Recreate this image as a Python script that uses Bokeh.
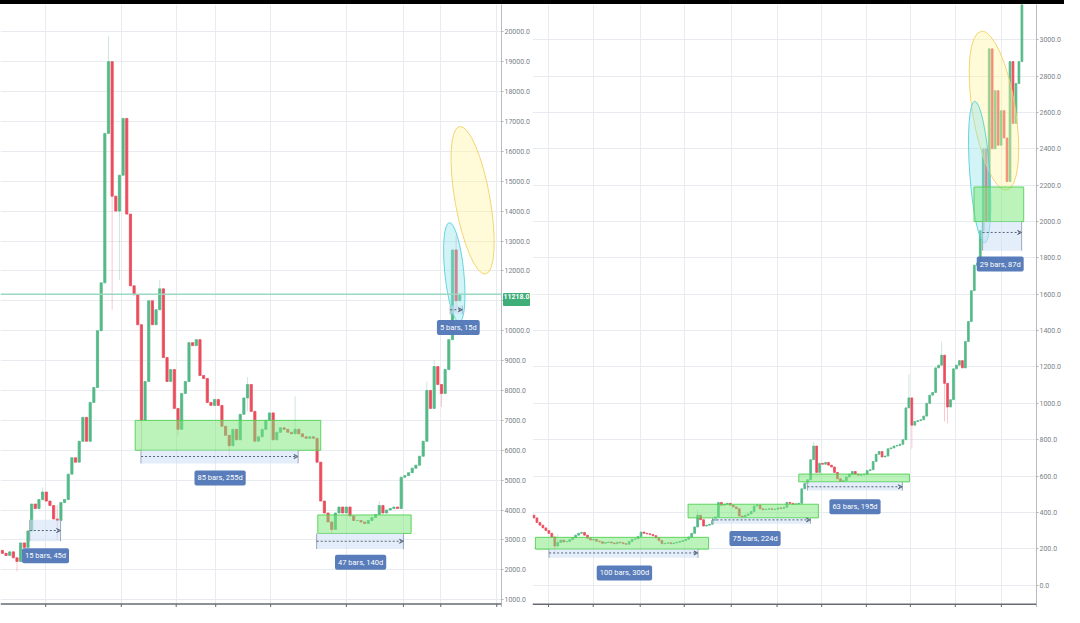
from bokeh.plotting import figure
from bokeh.models import (Range1d, FixedTicker, PrintfTickFormatter, BoxAnnotation,
                          Label, Span, Div, Arrow, VeeHead)
from bokeh.layouts import column, row
from bokeh.embed import file_html
from bokeh.resources import INLINE

# ---------------- data: left panel (6-day bars, 2017-2019) ----------------
L_first_open = 2650
L_close = [2550, 2480, 2600, 2400, 2280, 2900, 2750, 3300, 4200, 4050,
           4350, 4600, 4300, 4150, 3700, 3650, 4250, 4350, 5200, 5750,
           5600, 6300, 7100, 6300, 7600, 8100, 10000, 11600, 16600, 19000,
           14500, 14000, 15200, 17100, 13900, 11500, 11200, 10200, 7000, 8300,
           11000, 10200, 10700, 11400, 9100, 8300, 8700, 7400, 6700, 7900,
           8300, 9600, 9500, 9700, 8500, 8400, 7600, 7500, 7700, 7500,
           6800, 6500, 6150, 6700, 6350, 7200, 7750, 8200, 7300, 6300,
           6450, 6700, 7000, 7250, 6350, 6600, 6750, 6700, 6600, 6550,
           6700, 6550, 6450, 6400, 6450, 6400, 5600, 4300, 3900, 3600,
           3350, 3900, 4100, 3900, 4100, 3800, 3650, 3650, 3600, 3550,
           3650, 3750, 3850, 4150, 3900, 4000, 4050, 4100, 4050, 5100,
           5150, 5250, 5400, 5500, 5800, 6300, 8000, 7400, 8800, 8200,
           7900, 8700, 9700, 12700, 11000, 11218]
L_wick_idx = [4, 11, 15, 29, 30, 32, 38, 43, 48, 62, 67, 80, 90, 103, 116, 118, 120, 124]
L_wick_hi = [2400, 4750, 4150, 19850, 19000, 15200, 8800, 11700, 7400, 6500, 8450, 7800, 3600, 4300, 8300, 9000, 8200, 13200]
L_wick_lo = [1950, 4300, 3000, 16600, 10700, 11700, 6000, 11000, 6500, 5800, 7300, 6550, 3200, 3850, 6300, 7400, 7450, 10600]
L_yticks = [1000, 2000, 3000, 4000, 5000, 6000, 7000, 8000, 9000, 10000,
            11000, 12000, 13000, 14000, 15000, 16000, 17000, 18000, 19000, 20000]
L_last_price = 11218

# ---------------- data: right panel (6-day bars, 2014-2017) ----------------
R_first_open = 385
R_close = [370, 345, 330, 315, 300, 285, 265, 215, 235, 248,
           238, 240, 250, 260, 275, 285, 290, 275, 258, 248,
           252, 242, 238, 230, 235, 237, 232, 228, 236, 233,
           228, 225, 240, 252, 255, 268, 292, 285, 282, 278,
           272, 260, 245, 228, 230, 233, 228, 232, 236, 240,
           245, 252, 265, 285, 320, 385, 360, 325, 330, 335,
           355, 375, 455, 440, 445, 450, 440, 430, 420, 380,
           375, 385, 392, 405, 435, 440, 420, 415, 418, 420,
           416, 418, 425, 422, 428, 455, 450, 445, 447, 450,
           530, 560, 580, 690, 765, 620, 670, 665, 675, 660,
           650, 620, 585, 570, 575, 595, 610, 625, 610, 605,
           607, 610, 630, 635, 680, 720, 735, 705, 710, 750,
           755, 765, 768, 775, 800, 975, 1030, 880, 900, 905,
           910, 930, 1000, 1045, 1060, 1195, 1210, 1265, 1110, 980,
           1020, 1190, 1210, 1235, 1195, 1340, 1450, 1620, 1760, 1770,
           1950, 2400, 2000, 2950, 2400, 2720, 2420, 2610, 2460, 2220,
           2880, 2540, 2760, 2880, 3400]
R_wick_idx = [7, 8, 55, 94, 126, 127, 137, 138, 139]
R_wick_hi = [265, 280, 415, 790, 1160, 1030, 1340, 1265, 1110]
R_wick_lo = [170, 215, 320, 690, 975, 750, 1210, 900, 890]
R_yticks = [0, 200, 400, 600, 800, 1000, 1200, 1400, 1600, 1800, 2000,
            2200, 2400, 2600, 2800, 3000]

UP = "#53b987"
DN = "#eb4d5c"
FONT = "Roboto"


def make_fig(w, xr, yr, y_axis_at, yticks, xgrid_ticks):
    p = figure(width=w, height=603, output_backend="svg", toolbar_location=None,
               tools="", x_range=Range1d(*xr), y_range=Range1d(*yr),
               y_axis_location="right", x_axis_location=None,
               min_border_left=0, min_border_right=0, min_border_top=0,
               min_border_bottom=0)
    p.outline_line_color = None
    p.background_fill_color = "white"
    p.border_fill_color = "white"
    ya = p.yaxis[0]
    ya.ticker = FixedTicker(ticks=yticks, minor_ticks=[])
    ya.formatter = PrintfTickFormatter(format="%.1f")
    ya.major_label_text_font = FONT
    ya.major_label_text_font_size = "7px"
    ya.major_label_text_color = "#7b7f87"
    ya.major_label_standoff = 1
    ya.major_tick_out = 2
    ya.major_tick_in = 0
    ya.minor_tick_out = 0
    ya.minor_tick_in = 0
    ya.axis_label_standoff = 0
    ya.minor_tick_line_color = None
    ya.major_tick_line_color = "#b0b4ba"
    ya.axis_line_color = "#b8bcc2"
    p.xgrid.ticker = FixedTicker(ticks=xgrid_ticks, minor_ticks=[])
    p.ygrid.ticker = FixedTicker(ticks=yticks, minor_ticks=[])
    p.grid.grid_line_color = "#e8ebef"
    p.grid.grid_line_width = 1
    # bottom time axis line with downward ticks (no labels in the reference)
    p.add_layout(Span(location=y_axis_at, dimension="width",
                      line_color="#666a70", line_width=1.5))
    p.segment(x0=xgrid_ticks, x1=xgrid_ticks, y0=[yr[0]] * len(xgrid_ticks),
              y1=[y_axis_at] * len(xgrid_ticks), line_color="#666a70", line_width=1)
    return p


def candles(p, first_open, closes, widx, whi, wlo, bw):
    opens = [first_open] + closes[:-1]
    xs = list(range(len(closes)))
    top = [max(o, c) for o, c in zip(opens, closes)]
    bot = [min(o, c) for o, c in zip(opens, closes)]
    col = [UP if c >= o else DN for o, c in zip(opens, closes)]
    p.segment(x0=widx, x1=widx, y0=wlo, y1=whi,
              line_color=[col[i] for i in widx], line_alpha=0.3, line_width=1)
    p.vbar(x=xs, width=bw, top=top, bottom=bot, fill_color=col,
           line_color=col, line_width=0.8)


def zone(p, x0, x1, y0, y1):
    p.add_layout(BoxAnnotation(left=x0, right=x1, bottom=y0, top=y1,
                               fill_color="#78e878", fill_alpha=0.5,
                               line_color="#52cf52", line_width=1, line_alpha=0.9))


def measure(p, x0, x1, ylo, yhi, ymid):
    p.add_layout(BoxAnnotation(left=x0, right=x1, bottom=ylo, top=yhi,
                               fill_color="#cddff6", fill_alpha=0.55, line_alpha=0))
    p.add_layout(Arrow(end=VeeHead(size=4, line_color="#56657a", line_width=1,
                                   fill_alpha=0),
                       x_start=x0, y_start=ymid, x_end=x1, y_end=ymid,
                       line_color="#56657a", line_dash="2 2", line_width=1))
    p.segment(x0=[x0, x1], x1=[x0, x1], y0=[ylo, ylo], y1=[yhi, yhi],
              line_color="#8794a6", line_width=1)


def tag(p, x, y, text):
    p.add_layout(Label(x=x, y=y, text=text, text_font=FONT, text_font_size="7.5px",
                       text_color="white", text_align="center",
                       text_baseline="middle", background_fill_color="#5479b8",
                       background_fill_alpha=0.97, padding=3, border_radius=2))


def oval(p, x, y, w, h, ang, fill, line):
    p.ellipse(x=[x], y=[y], width=[w], height=[h], angle=ang,
              width_units="screen", height_units="screen",
              fill_color=fill, fill_alpha=0.4, line_color=line, line_width=1,
              line_alpha=0.9)


# ---------------- left panel ----------------
pL = make_fig(532, (-0.51, 136.4), (739, 20912), 853, L_yticks,
              [11.84, 32.5, 47.5, 58.3, 73.3, 94.0, 109.6, 119.8, 135.1])
pL.add_layout(Span(location=L_last_price, dimension="width",
                   line_color="#9ad8c2", line_width=1.5))
candles(pL, L_first_open, L_close, L_wick_idx, L_wick_hi, L_wick_lo, 0.6)
zone(pL, 36.3, 87.0, 6000, 7000)
zone(pL, 86.2, 111.7, 3216, 3835)
measure(pL, 37.9, 80.8, 5560, 6000, 5790)
measure(pL, 85.9, 109.6, 2695, 3216, 2955)
measure(pL, 7.5, 15.9, 2955, 3672, 3314)
measure(pL, 122.4, 125.7, 10550, 10840, 10700)
oval(pL, 128.5, 14362, 35, 150, 0.175, "#fff59d", "#f2cf66")
oval(pL, 123.5, 11950, 19, 100, 0.1, "#8fe3ec", "#55cfdc")
tag(pL, 59.5, 5074, "85 bars, 255d")
tag(pL, 97.9, 2255, "47 bars, 140d")
tag(pL, 11.8, 2467, "15 bars, 45d")
tag(pL, 124.6, 10108, "5 bars, 15d")

# ---------------- right panel ----------------
pR = make_fig(532, (-0.49, 168.9), (-123, 3194), -104.5, R_yticks,
              [4.9, 19.9, 35.7, 50.5, 66.3, 81.7, 96.7, 111.7, 126.5, 141.6, 157.1])
candles(pR, R_first_open, R_close, R_wick_idx, R_wick_hi, R_wick_lo, 0.6)
zone(pR, 0.49, 58.7, 198, 263)
zone(pR, 51.8, 95.6, 370, 445)
zone(pR, 89.0, 126.2, 568, 611)
zone(pR, 147.9, 164.6, 2000, 2190)
measure(pR, 5.1, 55.1, 150, 198, 177)
measure(pR, 60.0, 92.9, 338, 370, 359)
measure(pR, 91.9, 123.8, 520, 568, 541)
measure(pR, 150.8, 163.9, 1840, 2000, 1940)
oval(pR, 154.6, 2610, 43, 161, 0.16, "#fff59d", "#f2cf66")
oval(pR, 149.8, 2272, 20, 142, 0.07, "#8fe3ec", "#55cfdc")
tag(pR, 30.4, 67, "100 bars, 300d")
tag(pR, 74.3, 257, "75 bars, 224d")
tag(pR, 107.9, 431, "63 bars, 195d")
tag(pR, 156.7, 1766, "29 bars, 87d")

top_bar = Div(text="", width=1064, height=4, margin=(0, 0, 0, 0),
              styles={"background-color": "black"})
# last-price tag sitting on the left price scale (overlaid, painted after the charts)
price_tag = Div(
    text=('<div style="position:relative; left:503px; top:-320px; width:27px; '
          'height:13px; line-height:13px; background:#3fae78; color:white; '
          'font:bold 7px Roboto; text-align:center; border-radius:1px; '
          'z-index:10;">%.1f</div>' % L_last_price),
    width=1064, height=0, margin=(0, 0, 0, 0))
layout = column(top_bar, row(pL, pR, spacing=0), price_tag, spacing=0)

open("out.html", "w").write(file_html(layout, INLINE))
